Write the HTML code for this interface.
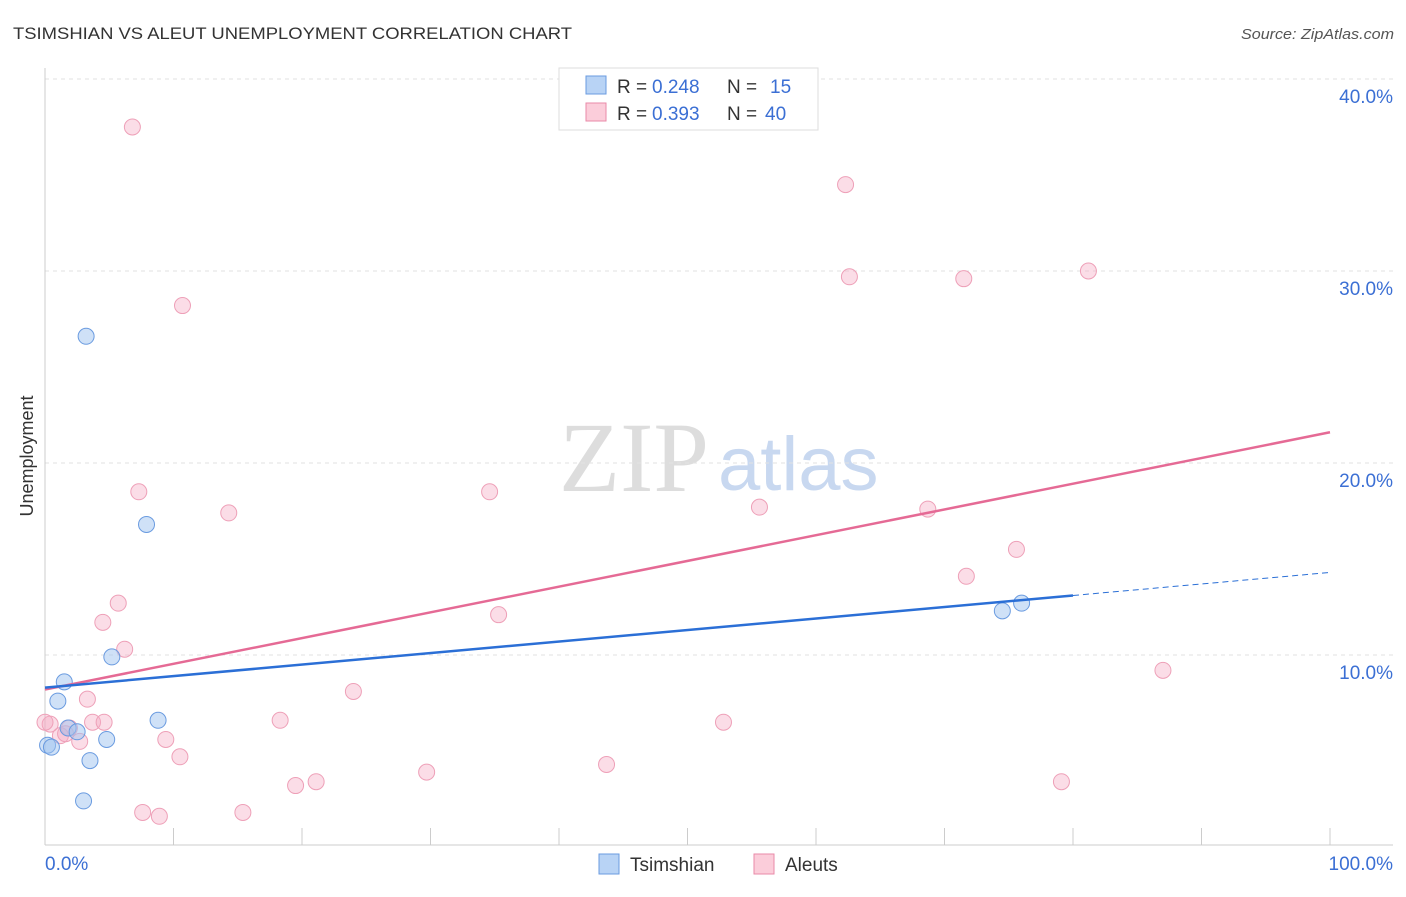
<!DOCTYPE html>
<html><head><meta charset="utf-8"><style>
body{margin:0;background:#fff;font-family:"Liberation Sans",sans-serif}
svg text{font-family:"Liberation Sans",sans-serif}
</style></head><body>
<svg id="chart" width="1406" height="892" viewBox="0 0 1406 892" xmlns="http://www.w3.org/2000/svg">
<text x="13" y="39" font-size="17" fill="#333" textLength="559" lengthAdjust="spacingAndGlyphs">TSIMSHIAN VS ALEUT UNEMPLOYMENT CORRELATION CHART</text>
<text x="1241" y="39" font-size="15" fill="#555" font-style="italic" textLength="153" lengthAdjust="spacingAndGlyphs">Source: ZipAtlas.com</text>
<g>
<text x="634" y="491" font-size="100" fill="#ddd" text-anchor="middle" style="font-family:'Liberation Serif',serif">ZIP</text>
<text x="718" y="490" font-size="76" fill="#c8d8f0">atlas</text>
</g>
<g id="grid"></g>
<g id="axes"></g>
<g id="marks"></g>
<text transform="translate(33,456) rotate(-90)" font-size="18" fill="#333" text-anchor="middle">Unemployment</text>
<g>
<rect x="559" y="68" width="259" height="62" fill="#fff" stroke="#ddd"/>
<rect x="586" y="76" width="20" height="18" fill="#b8d3f5" stroke="#6a9be0"/>
<rect x="586" y="103" width="20" height="18" fill="#fbcdda" stroke="#e98aa8"/>
<text x="617" y="93" font-size="19" fill="#333">R =</text>
<text x="652" y="93" font-size="19" fill="#3b6fd4">0.248</text>
<text x="727" y="93" font-size="19" fill="#333">N =</text>
<text x="770" y="93" font-size="19" fill="#3b6fd4">15</text>
<text x="617" y="120" font-size="19" fill="#333">R =</text>
<text x="652" y="120" font-size="19" fill="#3b6fd4">0.393</text>
<text x="727" y="120" font-size="19" fill="#333">N =</text>
<text x="765" y="120" font-size="19" fill="#3b6fd4">40</text>
</g>
<g>
<rect x="599" y="854" width="20" height="20" fill="#b8d3f5" stroke="#6a9be0"/>
<text x="630" y="871" font-size="19" fill="#333">Tsimshian</text>
<rect x="754" y="854" width="20" height="20" fill="#fbcdda" stroke="#e98aa8"/>
<text x="785" y="871" font-size="19" fill="#333">Aleuts</text>
</g>
</svg>
<script>
const yTicks=[10,20,30,40];
const yTickLabels=["10.0%","20.0%","30.0%","40.0%"];
const xTicks=[0,10,20,30,40,50,60,70,80,90,100];
const tsimX=[3.2,7.9,5.2,1.5,1.0,1.8,2.5,4.8,8.8,0.2,0.5,3.5,3.0,74.5,76.0];
const tsimY=[26.6,16.8,9.9,8.6,7.6,6.2,6.0,5.6,6.6,5.3,5.2,4.5,2.4,12.3,12.7];
const aleutX=[6.8,10.7,7.3,14.3,5.7,4.5,6.2,3.3,3.7,4.6,1.9,1.2,0.4,2.7,9.4,10.5,18.3,24.0,19.5,21.1,29.7,34.6,35.3,43.7,52.8,55.6,62.3,62.6,71.5,68.7,71.7,75.6,81.2,87.0,79.1,7.6,8.9,15.4,0.0,1.6];
const aleutY=[37.5,28.2,18.5,17.4,12.7,11.7,10.3,7.7,6.5,6.5,6.2,5.8,6.4,5.5,5.6,4.7,6.6,8.1,3.2,3.4,3.9,18.5,12.1,4.3,6.5,17.7,34.5,29.7,29.6,17.6,14.1,15.5,30.0,9.2,3.4,1.8,1.6,1.8,6.5,5.9];
const tsimLine=[8.3,13.1,14.3]; // at x=0, 80, 100
const aleutLine=[8.2,21.6];     // at x=0, 100
const X=v=>45+v*12.85, Y=v=>847-v*19.2;
const NS="http://www.w3.org/2000/svg";
function mk(tag,attrs,parent){const e=document.createElementNS(NS,tag);for(const k in attrs)e.setAttribute(k,attrs[k]);document.getElementById(parent).appendChild(e);return e;}
yTicks.forEach((t,i)=>{
 const g=mk('line',{x1:45,x2:1393,y1:Y(t),y2:Y(t),stroke:'#e2e2e2','stroke-dasharray':'4,4'},'grid');
 
 
 const l=mk('text',{x:1393,y:Y(t)+24,'font-size':19,fill:'#3b6fd4','text-anchor':'end'},'grid');
 l.textContent=yTickLabels[i];
 
 
});
const ax=mk('line',{x1:45,x2:1393,y1:845,y2:845,stroke:'#ccc'},'axes');


const ay=mk('line',{x1:45,x2:45,y1:68,y2:845,stroke:'#ccc'},'axes');


xTicks.forEach(t=>{
 const k=mk('line',{x1:X(t),x2:X(t),y1:828,y2:845,stroke:'#ccc'},'axes');
 
 
});
const x0=mk('text',{x:45,y:870,'font-size':19,fill:'#3b6fd4'},'axes');x0.textContent='0.0%';


const x1=mk('text',{x:1393,y:870,'font-size':19,fill:'#3b6fd4','text-anchor':'end'},'axes');x1.textContent='100.0%';


aleutX.forEach((v,i)=>{
 const c=mk('circle',{cx:X(v),cy:Y(aleutY[i]),r:8,fill:'rgba(245,170,195,0.4)',stroke:'#eea0b8','stroke-width':1},'marks');
 
 
});
tsimX.forEach((v,i)=>{
 const c=mk('circle',{cx:X(v),cy:Y(tsimY[i]),r:8,fill:'rgba(160,195,240,0.5)',stroke:'#6a9be0','stroke-width':1},'marks');
 
 
});
const pl=mk('line',{x1:X(0),y1:Y(aleutLine[0]),x2:X(100),y2:Y(aleutLine[1]),stroke:'#e56a95','stroke-width':2.5},'marks');


const bl=mk('line',{x1:X(0),y1:Y(tsimLine[0]),x2:X(80),y2:Y(tsimLine[1]),stroke:'#2b6fd6','stroke-width':2.5},'marks');


const bd=mk('line',{x1:X(80),y1:Y(tsimLine[1]),x2:X(100),y2:Y(tsimLine[2]),stroke:'#2b6fd6','stroke-width':1,'stroke-dasharray':'6,4'},'marks');


</script>
</body></html>
